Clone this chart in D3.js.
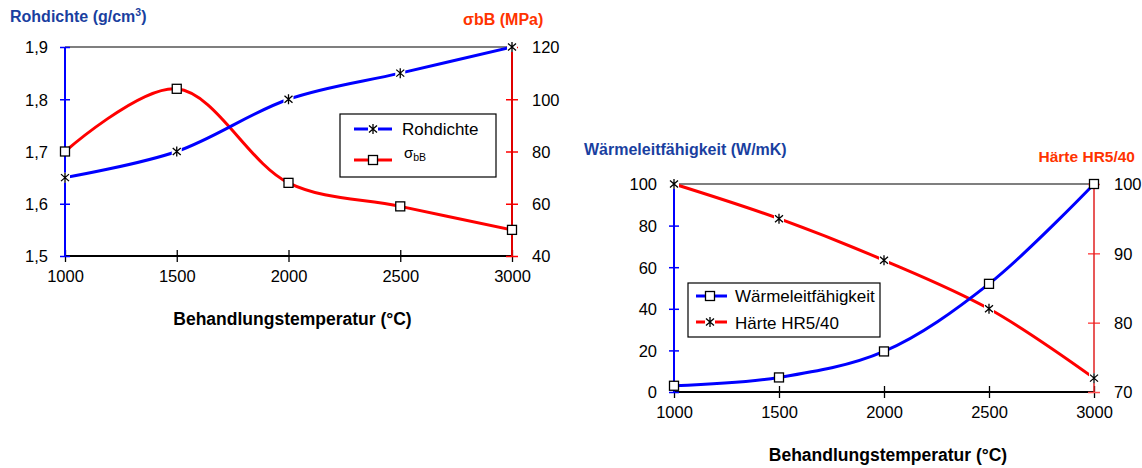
<!DOCTYPE html>
<html>
<head>
<meta charset="utf-8">
<script src="https://cdn.jsdelivr.net/npm/d3@7"></script>
<style>
  body { margin: 0; background: #fff; }
  svg { font-family: Arial, "Liberation Sans", sans-serif; }
</style>
</head>
<body>
<svg id="chart" width="1142" height="468"></svg>
<script>
// data
const temps = [1000, 1500, 2000, 2500, 3000];
const rohdichte = [1.65, 1.70, 1.80, 1.85, 1.90];
const sigmaBB = [80, 104, 68, 59, 50];
const waermeleit = [3, 7, 19.5, 52, 100];
const haerte = [100, 95, 89, 82, 72];

const tempTicks = [1000, 1500, 2000, 2500, 3000];
const rohTicks = [1.5, 1.6, 1.7, 1.8, 1.9];
const sigmaTicks = [40, 60, 80, 100, 120];
const waermeTicks = [0, 20, 40, 60, 80, 100];
const haerteTicks = [70, 80, 90, 100];

const svg = d3.select("#chart");
const BLUE = "#0000ff", RED = "#ff0000", TITLE_BLUE = "#1a3fa0", TITLE_RED = "#ff3300";

function star(g, x, y) {
    g.append("rect").attr("x", x - 5).attr("y", y - 5).attr("width", 10).attr("height", 10).attr("fill", "#fff");
    g.append("path")
        .attr("d", `M${x-4},${y-3.5}L${x+4},${y+3.5}M${x-4},${y+3.5}L${x+4},${y-3.5}M${x},${y-5}L${x},${y+5}`)
        .attr("stroke", "#000").attr("stroke-width", 1.3).attr("fill", "none");
}
function square(g, x, y) {
    g.append("rect").attr("x", x - 4.5).attr("y", y - 4.5).attr("width", 9).attr("height", 9)
        .attr("fill", "#fff").attr("stroke", "#000").attr("stroke-width", 1.3);
}

// cross ticks on an axis group
function crossTicks(g, len, vertical) {
    g.select(".domain").remove();
    g.selectAll(".tick line").each(function() {
        const l = d3.select(this);
        if (vertical) l.attr("x1", -len).attr("x2", len);
        else l.attr("y1", -len).attr("y2", len);
    });
}

function drawChart(opt) {
    const g = svg.append("g");
    const x = d3.scaleLinear().domain([1000, 3000]).range([opt.x0, opt.x1]);
    const yL = d3.scaleLinear().domain(opt.leftDomain).range([opt.yb, opt.yt]);
    const yR = d3.scaleLinear().domain(opt.rightDomain).range([opt.yb, opt.yt]);

    // top frame line
    g.append("line").attr("x1", opt.x0).attr("x2", opt.x1).attr("y1", opt.yt).attr("y2", opt.yt)
        .attr("stroke", "#000").attr("stroke-width", 1.2);

    // x axis
    const xa = g.append("g").attr("transform", `translate(0,${opt.yb})`)
        .call(d3.axisBottom(x).tickValues(tempTicks).tickFormat(d3.format("d")).tickSize(6));
    crossTicks(xa, 6, false);
    xa.selectAll(".tick line").attr("stroke", "#000").attr("stroke-width", 1.3);
    xa.selectAll(".tick text").attr("y", opt.xLabelDy).attr("dy", 0).attr("font-size", 16.5).attr("fill", "#000");
    g.append("line").attr("x1", opt.x0).attr("x2", opt.x1).attr("y1", opt.yb).attr("y2", opt.yb)
        .attr("stroke", "#000").attr("stroke-width", 2);

    // left axis
    const la = g.append("g").attr("transform", `translate(${opt.x0},0)`)
        .call(d3.axisLeft(yL).tickValues(opt.leftTicks).tickFormat(opt.leftFormat).tickSize(5).tickPadding(12));
    crossTicks(la, 5, true);
    la.selectAll(".tick line").attr("stroke", BLUE).attr("stroke-width", 1.5);
    la.selectAll(".tick text").attr("font-size", 16.5).attr("fill", "#000").attr("dy", "0.36em");
    g.append("line").attr("x1", opt.x0).attr("x2", opt.x0).attr("y1", opt.yt).attr("y2", opt.yb)
        .attr("stroke", BLUE).attr("stroke-width", 2);

    // right axis
    const ra = g.append("g").attr("transform", `translate(${opt.x1},0)`)
        .call(d3.axisRight(yR).tickValues(opt.rightTicks).tickFormat(d3.format("d")).tickSize(6).tickPadding(14));
    crossTicks(ra, 6, true);
    ra.selectAll(".tick line").attr("stroke", opt.rightTickColor).attr("stroke-width", 1.5);
    ra.selectAll(".tick text").attr("font-size", 16.5).attr("fill", "#000").attr("dy", "0.36em");
    g.append("line").attr("x1", opt.x1).attr("x2", opt.x1).attr("y1", opt.yt).attr("y2", opt.yb)
        .attr("stroke", opt.rightAxisColor).attr("stroke-width", opt.rightAxisWidth);

    // series
    const curve = d3.curveCatmullRom.alpha(0.5);
    opt.series.forEach(s => {
        const sc = s.axis === "left" ? yL : yR;
        g.append("path").datum(temps.map((t, i) => [t, s.values[i]]))
            .attr("fill", "none").attr("stroke", s.color).attr("stroke-width", 3)
            .attr("d", d3.line().x(d => x(d[0])).y(d => sc(d[1])).curve(curve));
    });
    opt.series.forEach(s => {
        const sc = s.axis === "left" ? yL : yR;
        temps.forEach((t, i) => s.marker(g, x(t), sc(s.values[i])));
    });

    // x title
    g.append("text").attr("x", (opt.x0 + opt.x1) / 2 + 4).attr("y", opt.xTitleY)
        .attr("text-anchor", "middle").attr("font-size", 17.5).attr("font-weight", "bold")
        .text("Behandlungstemperatur (°C)");
    return g;
}

// chart 1
const g1 = drawChart({
    x0: 65, x1: 512, yt: 47, yb: 256,
    leftDomain: [1.5, 1.9], rightDomain: [40, 120],
    leftTicks: rohTicks, rightTicks: sigmaTicks,
    leftFormat: d => d3.format(".1f")(d).replace(".", ","),
    rightTickColor: RED, rightAxisColor: "#e00000", rightAxisWidth: 2,
    xLabelDy: 26, xTitleY: 325,
    series: [
        { values: sigmaBB, axis: "right", color: RED, marker: square },
        { values: rohdichte, axis: "left", color: BLUE, marker: star }
    ]
});
const t1 = g1.append("text").attr("x", 10).attr("y", 22).attr("font-size", 16).attr("font-weight", "bold").attr("fill", TITLE_BLUE);
t1.append("tspan").text("Rohdichte (g/cm");
t1.append("tspan").attr("font-size", 10.5).attr("dy", -6).text("3");
t1.append("tspan").attr("dy", 6).text(")");
g1.append("text").attr("x", 463).attr("y", 25).attr("font-size", 16).attr("font-weight", "bold").attr("fill", TITLE_RED)
    .text("σbB (MPa)");

// legend 1
const lg1 = g1.append("g");
lg1.append("rect").attr("x", 340).attr("y", 114).attr("width", 156).attr("height", 63)
    .attr("fill", "#fff").attr("stroke", "#000").attr("stroke-width", 1.2);
lg1.append("line").attr("x1", 354).attr("x2", 392).attr("y1", 129).attr("y2", 129).attr("stroke", BLUE).attr("stroke-width", 3);
star(lg1, 373, 129);
lg1.append("text").attr("x", 402).attr("y", 135).attr("font-size", 17).text("Rohdichte");
lg1.append("line").attr("x1", 354).attr("x2", 392).attr("y1", 160).attr("y2", 160).attr("stroke", RED).attr("stroke-width", 3);
square(lg1, 373, 160);
const s1 = lg1.append("text").attr("x", 404).attr("y", 158).attr("font-size", 15);
s1.append("tspan").text("σ");
s1.append("tspan").attr("font-size", 10.5).attr("dy", 3).text("bB");

// chart 2
const g2 = drawChart({
    x0: 674, x1: 1094, yt: 184, yb: 392,
    leftDomain: [0, 100], rightDomain: [70, 100],
    leftTicks: waermeTicks, rightTicks: haerteTicks,
    leftFormat: d3.format("d"),
    rightTickColor: "#ff5050", rightAxisColor: "#e02020", rightAxisWidth: 1.5,
    xLabelDy: 26, xTitleY: 461,
    series: [
        { values: haerte, axis: "right", color: RED, marker: star },
        { values: waermeleit, axis: "left", color: BLUE, marker: square }
    ]
});
g2.append("text").attr("x", 584).attr("y", 155).attr("font-size", 16).attr("font-weight", "bold").attr("fill", TITLE_BLUE)
    .text("Wärmeleitfähigkeit (W/mK)");
g2.append("text").attr("x", 1135).attr("y", 162).attr("text-anchor", "end").attr("font-size", 15.5).attr("font-weight", "bold").attr("fill", TITLE_RED)
    .text("Härte HR5/40");

// legend 2
const lg2 = g2.append("g");
lg2.append("rect").attr("x", 688).attr("y", 283).attr("width", 192).attr("height", 54)
    .attr("fill", "#fff").attr("stroke", "#000").attr("stroke-width", 1.2);
lg2.append("line").attr("x1", 696).attr("x2", 727).attr("y1", 296).attr("y2", 296).attr("stroke", BLUE).attr("stroke-width", 3);
square(lg2, 710, 296);
lg2.append("text").attr("x", 735).attr("y", 302).attr("font-size", 17).text("Wärmeleitfähigkeit");
lg2.append("line").attr("x1", 696).attr("x2", 727).attr("y1", 322).attr("y2", 322).attr("stroke", RED).attr("stroke-width", 3);
star(lg2, 710, 322);
lg2.append("text").attr("x", 735).attr("y", 329).attr("font-size", 17).text("Härte HR5/40");
</script>
</body>
</html>
